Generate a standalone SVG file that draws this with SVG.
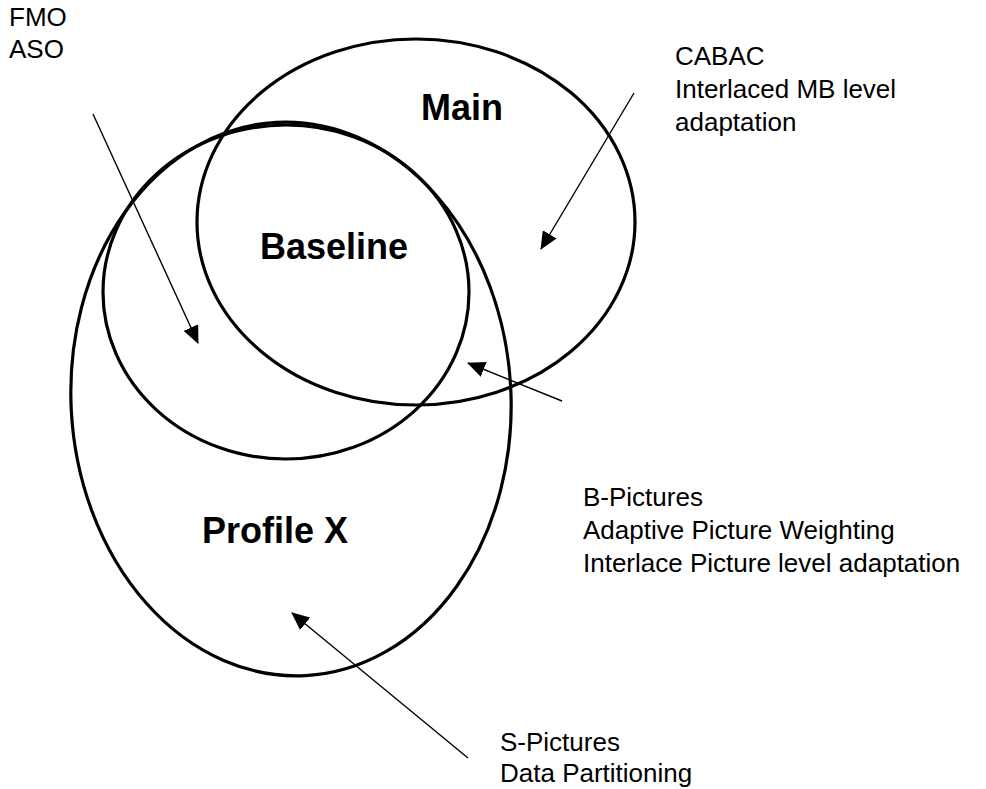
<svg xmlns="http://www.w3.org/2000/svg" width="986" height="789" viewBox="0 0 986 789">
<style>
.shape{fill:none;stroke:#000;stroke-width:3.2}
.con{fill:none;stroke:#000;stroke-width:1.4}
.lbl{font-family:"Liberation Sans",Arial,sans-serif;font-size:26px;fill:#000}
.big{font-family:"Liberation Sans",Arial,sans-serif;font-size:36px;font-weight:bold;fill:#000}
</style>
<defs>
<marker id="ah" markerUnits="userSpaceOnUse" markerWidth="18" markerHeight="16" viewBox="0 0 18 16" refX="17" refY="8" orient="auto">
<path d="M0,0 L18,8 L0,16 Z" fill="#000"/>
</marker>
</defs>
<rect width="986" height="789" fill="#fff"/>
<g id="main">
<ellipse class="shape" cx="416" cy="222" rx="219" ry="183"/>
<text class="big" x="421" y="120">Main</text>
</g>
<g id="profilex">
<ellipse class="shape" cx="291" cy="399" rx="220" ry="277" transform="rotate(-3 291 399)"/>
<text class="big" x="202" y="543">Profile X</text>
</g>
<g id="baseline">
<ellipse class="shape" cx="286" cy="292" rx="183" ry="167"/>
<text class="big" x="260" y="259">Baseline</text>
</g>
<g id="fmo">
<text class="lbl" x="9" y="26">FMO</text>
<text class="lbl" x="9" y="58">ASO</text>
</g>
<g id="cabac">
<text class="lbl" x="675" y="65">CABAC</text>
<text class="lbl" x="675" y="98">Interlaced MB level</text>
<text class="lbl" x="675" y="131">adaptation</text>
</g>
<g id="bpictures">
<text class="lbl" x="583" y="506">B-Pictures</text>
<text class="lbl" x="583" y="539">Adaptive Picture Weighting</text>
<text class="lbl" x="583" y="572">Interlace Picture level adaptation</text>
</g>
<g id="spictures">
<text class="lbl" x="500" y="751">S-Pictures</text>
<text class="lbl" x="500" y="782">Data Partitioning</text>
</g>
<g id="connectors">
<line class="con" x1="93" y1="114" x2="198" y2="343" marker-end="url(#ah)"/>
<line class="con" x1="634" y1="93" x2="541" y2="249" marker-end="url(#ah)"/>
<line class="con" x1="562" y1="401" x2="468" y2="363" marker-end="url(#ah)"/>
<line class="con" x1="468" y1="758" x2="292" y2="613" marker-end="url(#ah)"/>
</g>
</svg>
